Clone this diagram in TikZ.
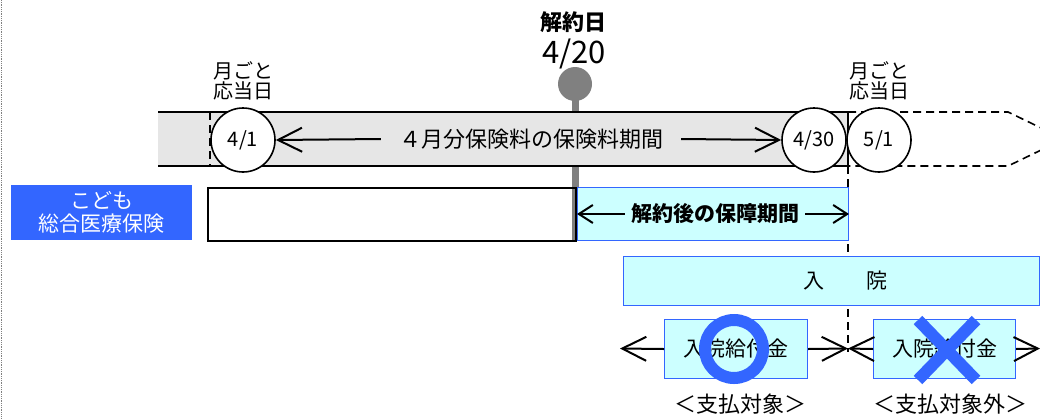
\documentclass[tikz,border=0pt]{standalone}
\usepackage{fontspec}
\setmainfont{Noto Sans CJK JP}
\usepackage{tikz}
\usetikzlibrary{arrows.meta, positioning}
\definecolor{hokenblue}{HTML}{3366FF}
\definecolor{hokencyan}{HTML}{CCFFFF}
\definecolor{bandgray}{HTML}{E6E6E6}
\definecolor{bargray}{HTML}{808080}

\begin{document}
\begin{tikzpicture}[x=1pt,y=-1pt,
        every node/.style={inner sep=0pt},
        bigtip/.style={-{Straight Barb[length=24pt,width=24pt]},line width=2pt},
        smalltip/.style={-{Straight Barb[length=14pt,width=18pt]},line width=2pt},
        longdash/.style={dash pattern=on 8pt off 5pt},
        day/.style={circle,draw,fill=white,line width=1.6pt,minimum size=64pt,font=\fontsize{20}{20}\selectfont},
        otobi/.style={align=center,font=\fontsize{20}{20}\selectfont},
        cyanbox/.style={draw=hokenblue,fill=hokencyan,line width=1pt,anchor=north west},
        txt/.style={font=\fontsize{21}{22}\selectfont}]

      \useasboundingbox (0,0) rectangle (1040,418);
      \draw[densely dotted,gray,line width=0.8pt] (1,0) -- (1,418);

      \node[circle,fill=bargray,minimum size=34pt] (cancel) at (575,84) {};
      \draw[bargray,line width=7pt] (cancel.center) -- (575,240);
      \node[font=\bfseries\fontsize{22}{22}\selectfont] (cancellabel) at (573,22) {解約日};
      \node[font=\fontsize{31}{31}\selectfont] (canceldate) at (574,54) {4/20};

      \fill[bandgray] (158,112) rectangle (848,166);
      \draw[line width=1.6pt] (158,112) -- (848,112) -- (848,166) -- (158,166);
      \draw[longdash,line width=1.6pt] (848,112) -- (1008,112) -- (1064,139) -- (1008,166) -- (848,166);
      \draw[longdash,line width=1.4pt] (210,112) -- (210,166);
      \draw[longdash,line width=1.4pt] (848,166) -- (848,352);

      \node[day]  (d41)  at (243,140) {4/1};
      \node[day]  (d430) at (814,140) {4/30};
      \node[day]  (d51)  at (879,140) {5/1};
      \node[otobi] (oto1) [above=7pt of d41] {月ごと\\応当日};
      \node[otobi] (oto2) [above=7pt of d51] {月ごと\\応当日};

      \node[font=\fontsize{22}{22}\selectfont,fill=bandgray,inner xsep=18pt,inner ysep=4pt] (premium) at (531,139) {４月分保険料の保険料期間};
      \draw[bigtip] (premium.west) -- (d41.east);
      \draw[bigtip] (premium.east) -- (d430.west);

      \node[fill=hokenblue,text=white,align=center,minimum width=181pt,minimum height=55pt,
            font=\fontsize{21}{23}\selectfont] (kodomo) at (101.5,212.5) {こども\\総合医療保険};
      \node[draw,line width=2pt,minimum width=368pt,minimum height=53pt,anchor=north west] (contract) at (207,187) {};
      \node[cyanbox,minimum width=271pt,minimum height=53pt] (coverage) at (577,187) {};
      \node[txt,font=\bfseries\fontsize{21}{22}\selectfont,inner xsep=6pt] (coveragetext) at (715,214) {解約後の保障期間};
      \draw[smalltip] (coveragetext.west) -- (coverage.west);
      \draw[smalltip] (coveragetext.east) -- (coverage.east);

      \node[cyanbox,minimum width=416pt,minimum height=49pt] (stay) at (623,256) {};
      \node[txt] (staytext) at (845,281) {入　　院};

      \node[cyanbox,minimum width=143pt,minimum height=59pt,txt] (benefit1) at (664,319) {入院給付金};
      \node[cyanbox,minimum width=142pt,minimum height=59pt,txt] (benefit2) at (873,319) {入院給付金};
      \coordinate (leftend)  at (620,348.5);
      \coordinate (border)   at (848,348.5);
      \coordinate (rightend) at (1040,348.5);
      \draw[bigtip] (benefit1.west) -- (leftend);
      \draw[bigtip] (benefit1.east) -- (border);
      \draw[bigtip] (benefit2.west) -- (border);
      \draw[bigtip] (benefit2.east) -- (rightend);

      \draw[hokenblue,line width=12pt] (benefit1.center) ++(-2,0) circle (29);
      \draw[hokenblue,line width=12pt] (918,320) -- (976,380) (976,320) -- (918,380);

      \node[font=\fontsize{22}{22}\selectfont] (paid)   at (740,404) {＜支払対象＞};
      \node[font=\fontsize{22}{22}\selectfont] (unpaid) at (950,404) {＜支払対象外＞};
    \end{tikzpicture}
\end{document}
